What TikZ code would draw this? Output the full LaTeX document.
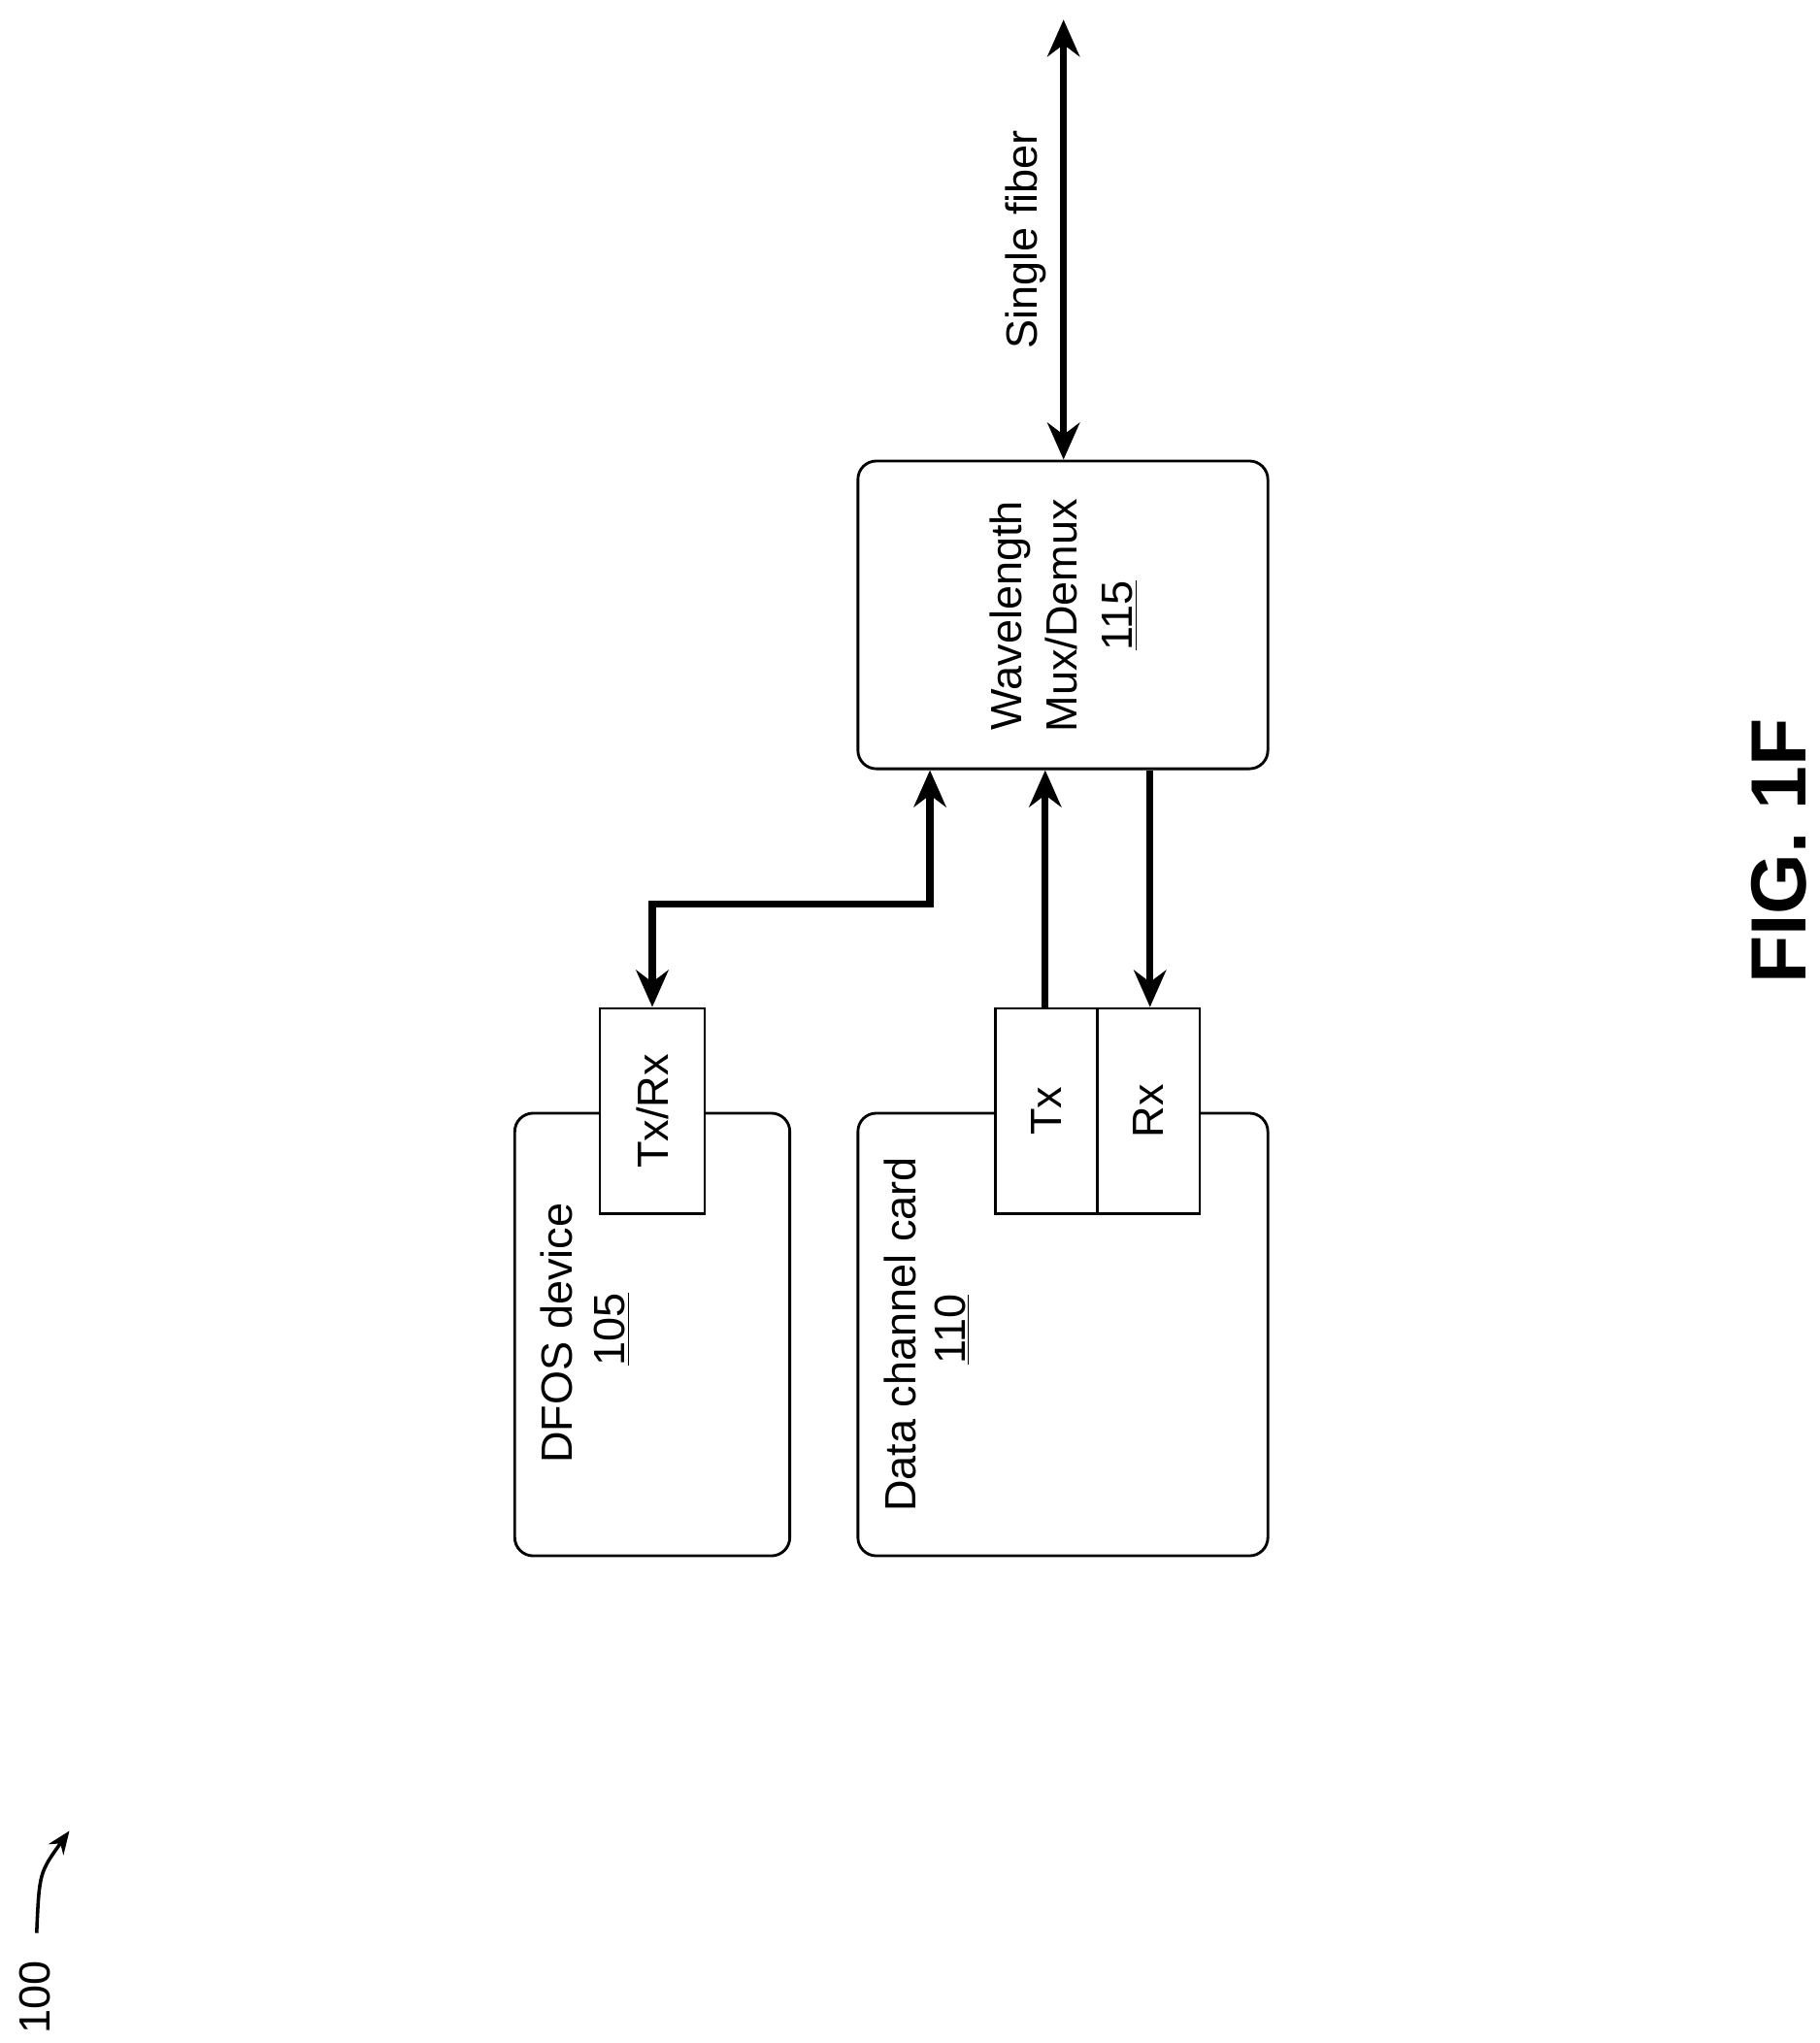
\documentclass[tikz,border=0pt]{standalone}
\usepackage{fontspec}
\setmainfont{Liberation Sans}
\usetikzlibrary{arrows.meta}
\begin{document}
\begin{tikzpicture}[x=0.02cm,y=-0.02cm,
  box/.style={draw,line width=1.2pt,rounded corners=8pt},
  sq/.style={draw,line width=1.2pt},
  lab/.style={rotate=90,font=\fontsize{19}{24}\selectfont,align=center},
  conn/.style={line width=3pt,-{Stealth[length=16pt,width=14pt]}},
  bconn/.style={line width=3pt,{Stealth[length=16pt,width=14pt]}-{Stealth[length=16pt,width=14pt]}}]
\useasboundingbox (0,0) rectangle (1389,1560);
\draw[box] (393,850) rectangle (603,1188);
\draw[box] (655,850) rectangle (968,1188);
\node[box,minimum width=313*0.02cm,minimum height=235*0.02cm] (mux) at (811.5,469.5) {};
\node[sq,fill=white,minimum width=80*0.02cm,minimum height=157*0.02cm] (txrx) at (498,848.5) {};
\node[sq,fill=white,minimum width=78*0.02cm,minimum height=157*0.02cm] (tx) at (799,848.5) {};
\node[sq,fill=white,minimum width=78*0.02cm,minimum height=157*0.02cm] (rx) at (877,848.5) {};
\node[lab] (t1) at (425,1018) {DFOS device};
\node[lab] (n1) at (467,1015) {\underline{105}};
\node[lab] (t2) at (687,1019) {Data channel card};
\node[lab] (n2) at (727,1015) {\underline{110}};
\node[lab] (t3) at (812,470) {Wavelength\\Mux/Demux\\\underline{115}};
\node[lab] at (txrx) {Tx/Rx};
\node[lab] at (tx) {Tx};
\node[lab] at (rx) {Rx};
\coordinate (top) at (812,15);
\draw[bconn] (top) -- (mux.north -| top);
\node[lab] (sf) at (783,183) {Single fiber};
\draw[bconn] (txrx.north) -- (498,690) -- (710,690) -- (mux.south -| 710,0);
\draw[conn] (tx.north -| 798,0) -- (mux.south -| 798,0);
\draw[conn] (mux.south -| 878,0) -- (rx.north -| 878,0);
\node[rotate=90,font=\fontsize{34}{40}\selectfont\bfseries] (fig) at (1358,650) {FIG. 1F};
\node[lab] (hundred) at (27,1525) {100};
\coordinate (ha) at (53,1398);
\draw[line width=1.5pt,-{Stealth[length=10pt,width=8pt]}] (28,1476) .. controls (30,1430) .. (ha);
\end{tikzpicture}
\end{document}
